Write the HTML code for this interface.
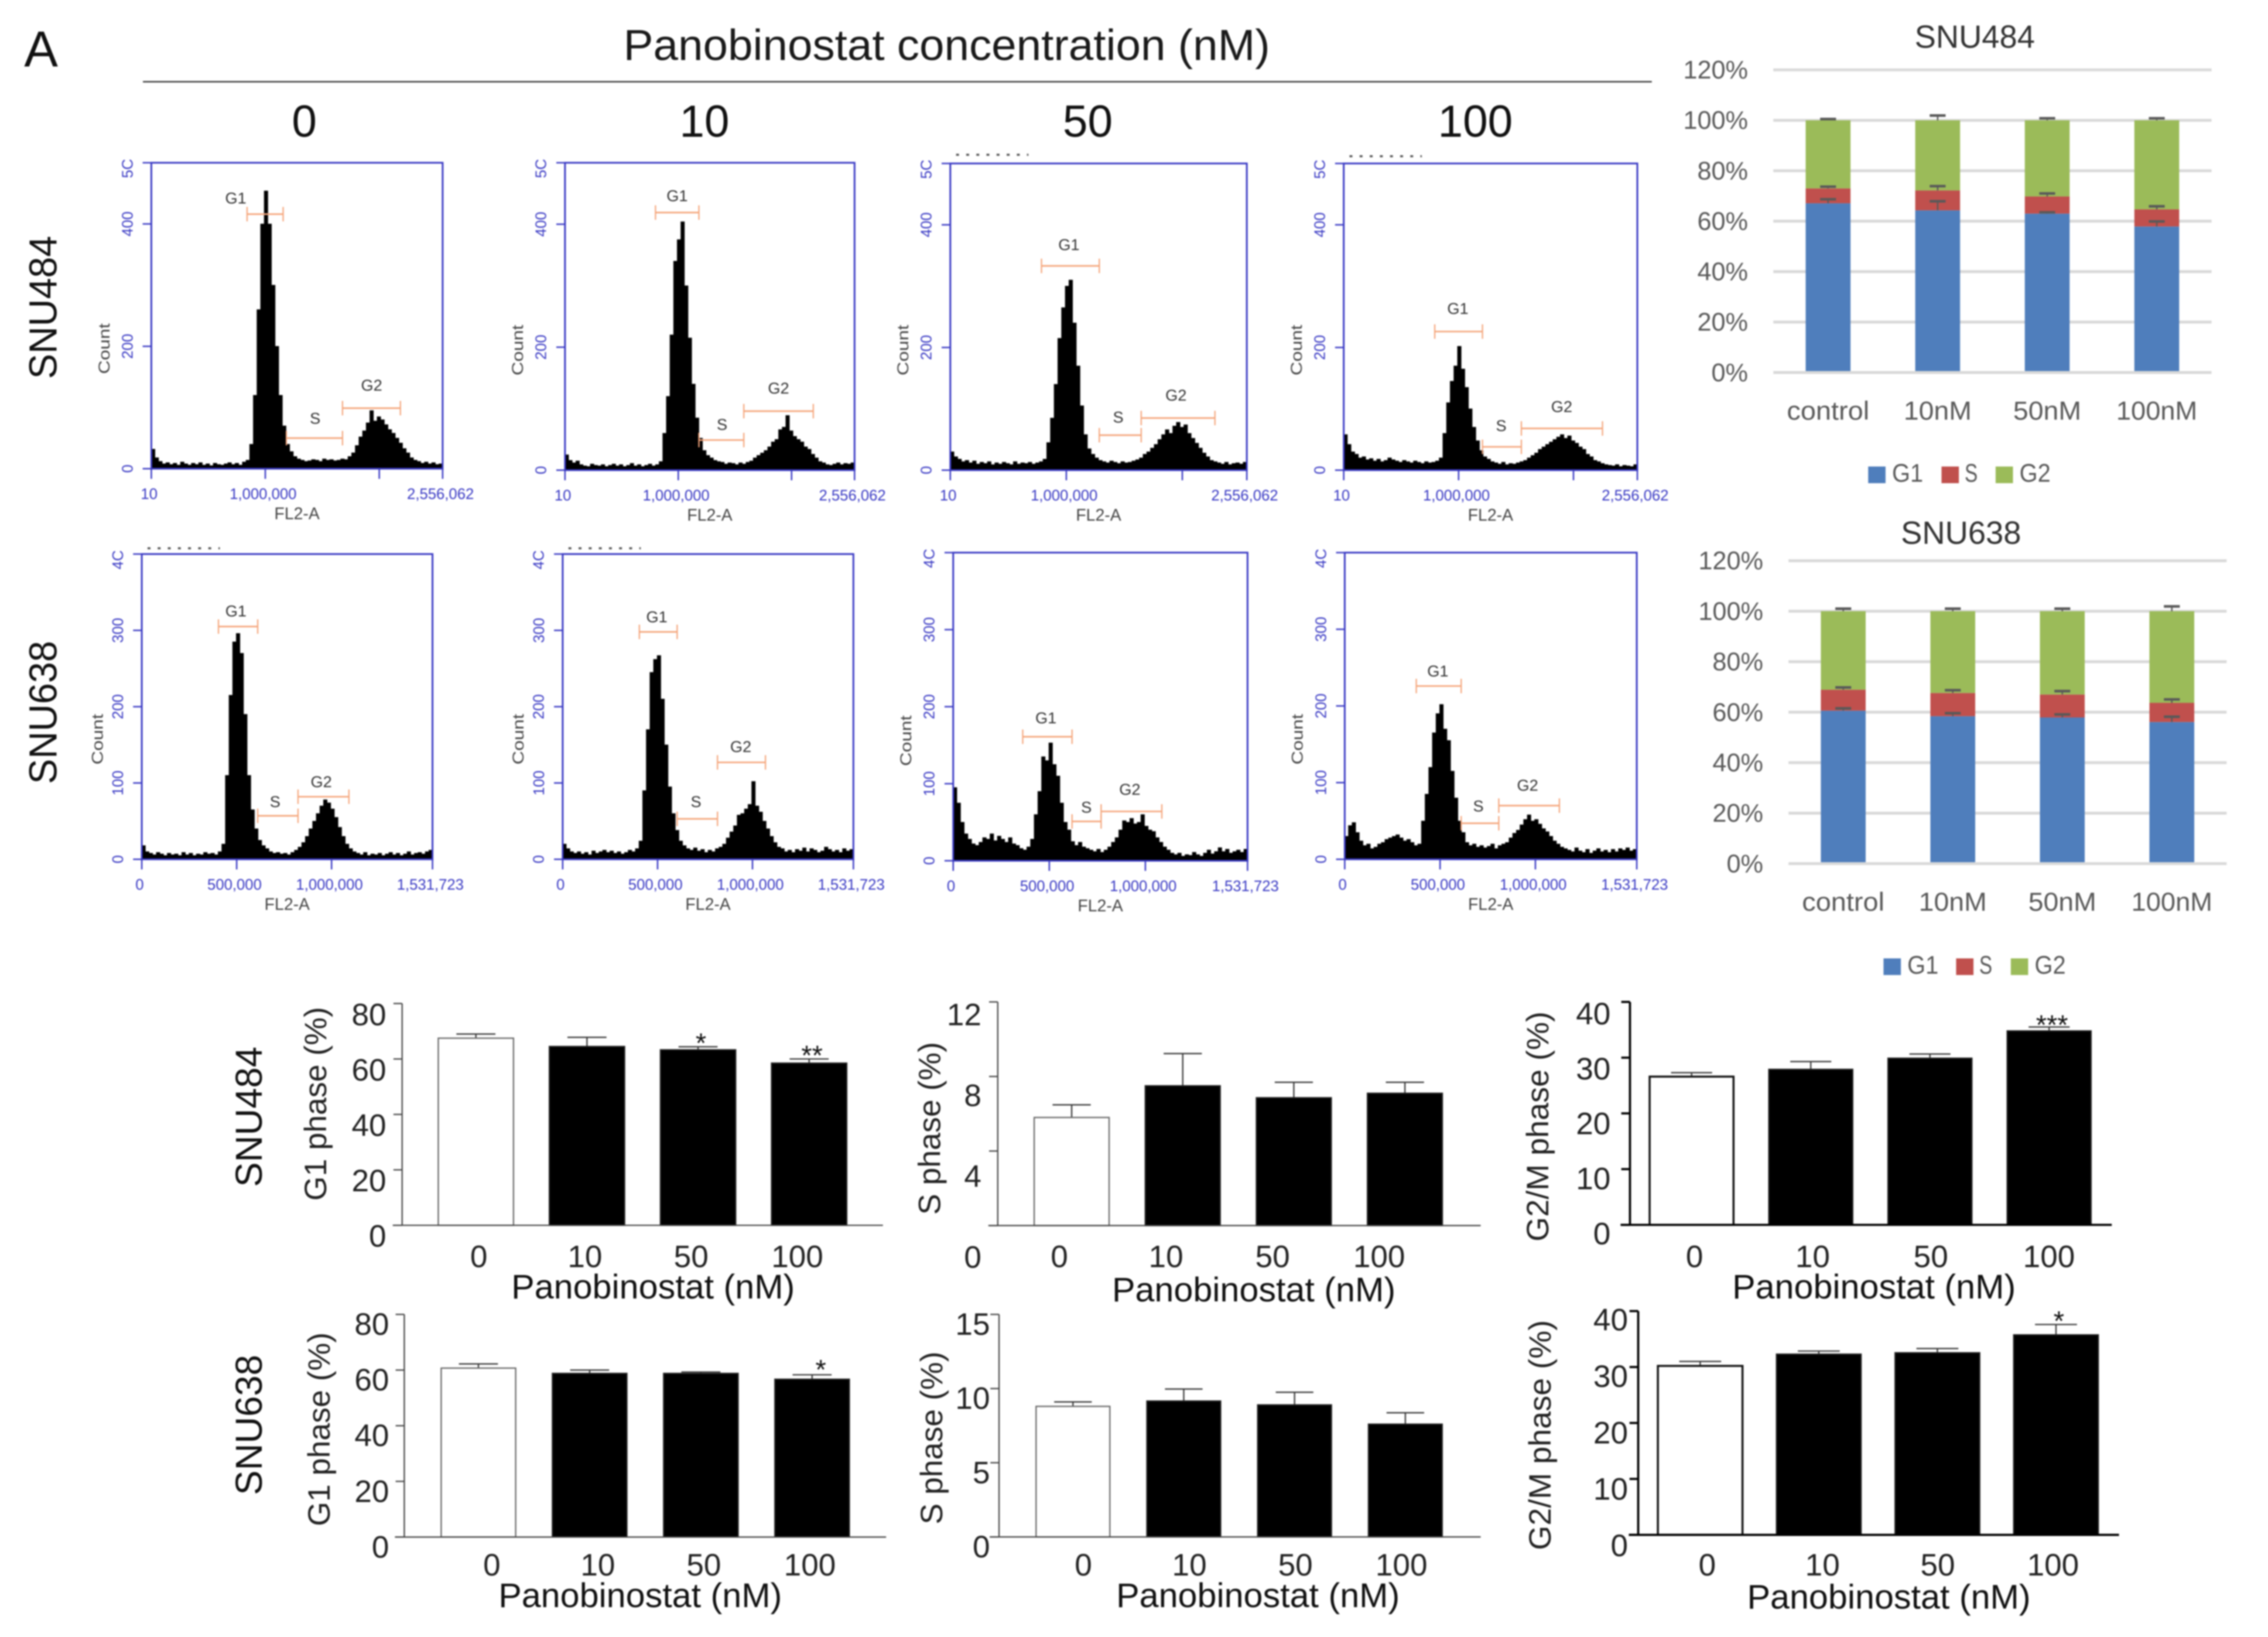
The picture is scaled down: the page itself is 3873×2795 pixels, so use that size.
<!DOCTYPE html>
<html lang="en">
<head>
<meta charset="utf-8">
<title>Panobinostat cell cycle figure</title>
<style>
html,body{margin:0;padding:0;background:#fff;width:3873px;height:2795px;overflow:hidden}
svg{display:block;width:3873px;height:2795px;filter:blur(1.3px);font-family:"Liberation Sans",Arial,sans-serif}
</style>
</head>
<body>
<svg id="fig" xmlns="http://www.w3.org/2000/svg" viewBox="0 0 1568 1131.6"></svg>
<script>
// ---------- Histogram data (counts per bin, 80 bins per panel) ----------
const snu484Dose0 = [32,18,12,8,10,7,9,6,11,8,6,9,7,10,6,8,5,9,7,6,8,10,7,9,6,11,14,40,120,260,400,454,400,300,200,120,70,40,28,20,16,14,12,13,15,14,12,16,14,15,13,14,16,15,20,26,38,52,62,75,95,78,85,80,72,64,58,50,42,33,26,18,14,12,9,11,8,10,7,8];
const snu484Dose10 = [25,16,12,15,9,7,6,10,8,7,9,6,8,10,7,9,6,8,11,7,9,6,8,10,7,9,14,60,120,220,340,375,404,300,215,140,85,52,32,24,20,16,14,13,10,12,11,9,12,10,13,15,20,24,28,32,38,46,50,66,70,89,64,55,50,46,38,34,26,20,14,12,9,8,10,12,9,11,10,12];
const snu484Dose50 = [30,22,18,14,16,12,15,10,13,11,14,9,12,10,13,11,9,14,10,12,11,13,10,12,14,18,45,85,140,215,265,300,310,240,170,105,58,35,26,20,16,14,12,15,13,11,14,12,13,15,17,20,26,30,36,42,50,58,66,60,72,78,70,74,60,52,44,36,28,22,16,14,12,10,13,9,11,12,10,13];
const snu484Dose100 = [58,42,30,26,20,22,17,19,15,18,14,16,20,17,15,13,16,14,12,15,13,11,14,12,13,15,20,60,110,145,170,202,165,135,100,70,48,32,22,18,14,12,10,13,9,11,10,12,14,16,20,24,28,34,38,42,46,50,54,58,52,56,48,44,38,34,26,22,16,14,11,9,8,7,9,6,8,7,6,9];
const snu638Dose0 = [18,10,8,6,9,7,5,8,6,7,5,9,6,8,5,7,6,9,7,8,6,10,20,110,215,285,296,270,190,110,65,40,25,18,14,10,8,9,7,8,6,9,12,16,22,30,40,50,60,70,78,74,66,55,42,30,20,14,10,8,6,9,5,7,6,8,5,7,9,6,8,5,7,10,6,8,9,7,10,12];
const snu638Dose10 = [20,14,10,8,10,7,9,6,11,8,10,12,9,11,8,10,7,9,12,10,14,24,90,170,245,262,267,210,150,95,60,38,24,18,14,12,15,11,13,9,12,10,14,16,20,28,36,44,58,60,66,72,102,70,62,50,40,30,22,16,14,10,12,9,13,11,15,10,14,12,9,11,16,13,10,12,9,14,11,13];
const snu638Dose50 = [95,75,50,35,28,22,20,24,30,28,35,26,32,28,24,30,22,20,16,14,18,28,60,90,135,130,153,125,110,75,50,40,25,20,24,18,16,14,12,15,11,14,18,24,30,40,52,50,55,48,50,60,45,40,38,30,24,18,14,10,8,10,6,8,7,11,8,6,10,14,9,12,17,12,15,10,12,14,11,15];
const snu638Dose100 = [30,44,48,35,24,18,20,14,16,20,22,26,28,30,32,28,24,26,22,18,20,50,85,120,165,190,202,170,155,115,80,50,35,22,18,20,16,18,15,17,20,14,18,20,22,28,34,38,45,52,58,50,52,46,40,36,30,24,20,16,14,12,10,15,11,9,13,8,11,14,10,12,9,13,10,14,12,15,11,13];

// Gates: [start bin, end bin, count level] for G1, S, G2
const gates484Dose0 = [[26.3,36.2,416],[37.1,52.5,50],[52.5,68.4,99]];
const gates484Dose10 = [[25,37,419],[37,49.4,49],[49.4,68.6,96]];
const gates484Dose50 = [[24.6,40.2,333],[40.2,51.5,57],[51.5,71.4,85]];
const gates484Dose100 = [[24.8,37.8,226],[37.8,48.4,38],[48.4,70.5,68]];
const gates638Dose0 = [[21.1,31.9,305],[31.9,43,57],[43,57,82]];
const gates638Dose10 = [[21.1,31.5,298],[31.5,42.6,53],[42.6,55.8,127]];
const gates638Dose50 = [[18.9,32.3,161],[32.3,40.2,51],[40.2,56.7,64]];
const gates638Dose100 = [[19.6,31.9,226],[31.9,42.2,47],[42.2,58.8,70]];
// Gate captions: [bin, count] for G1, S, G2
const captions484Dose0 = [[23.2,443],[45,83],[60.5,137]];
const captions484Dose10 = [[31,447],[43.4,75],[59,134]];
const captions484Dose50 = [[32,368],[45.3,87],[60.9,123]];
const captions484Dose100 = [[31.1,264],[42.9,73],[59.4,104]];
const captions638Dose0 = [[25.9,326],[36.7,76],[49.4,102]];
const captions638Dose10 = [[25.9,318],[36.7,76],[49,148]];
const captions638Dose50 = [[25.2,186],[36.2,70],[48,93]];
const captions638Dose100 = [[25.5,246],[36.6,70],[50.1,97]];

const gateNames = ["G1","S","G2"];
const histTicks484 = [10,1000000,2000000,2556062];
const histTickLabels484 = ["10","1,000,000","","2,556,062"];
const histYTicks484 = [0,200,400,500];
const histYLabels484 = ["0","200","400","5C"];
const histTicks638 = [0,500000,1000000,1531723];
const histTickLabels638 = ["0","500,000","1,000,000","1,531,723"];
const histYTicks638 = [0,100,200,300,400];
const histYLabels638 = ["0","100","200","300","4C"];

// ---------- Stacked percentage charts ----------
const stackCategories = ["control","10nM","50nM","100nM"];
const stackTicks = [0,20,40,60,80,100,120];
const stack484G1 = [67.1,64.3,63,57.9];
const stack484S = [5.9,7.9,6.8,6.8];
const stack484G2 = [27,27.8,30.2,35.3];
const stack484G1Err = [1.6,3.6,0.5,2];
const stack484SErr = [0.7,1.7,1.2,1.2];
const stack484G2Err = [0.5,1.9,0.8,0.8];
const stack638G1 = [60.6,58.4,57.9,56.1];
const stack638S = [8.3,9.2,9.1,7.6];
const stack638G2 = [31.1,32.4,33,36.3];
const stack638G1Err = [0.9,1.2,1.2,2.1];
const stack638SErr = [0.9,1.1,1.35,1.35];
const stack638G2Err = [1,1,1,1.9];

// ---------- Bottom bar charts ----------
const doseLabels = ["0","10","50","100"];
const g1Ticks484 = [80,60,40,20,0];
const g1Values484 = [67.5,64.5,63.3,58.5];
const g1Errors484 = [1.5,3.3,1.1,1.5];
const g1Stars484 = ["","","*","**"];
const sTicks484 = [12,8,4,0];
const sValues484 = [5.8,7.5,6.86,7.1];
const sErrors484 = [0.68,1.73,0.83,0.59];
const sStars484 = ["","","",""];
const g2Ticks484 = [40,30,20,10,0];
const g2Values484 = [26.6,27.9,29.9,34.8];
const g2Errors484 = [0.7,1.4,0.75,0.7];
const g2Stars484 = ["","","","***"];
const g1Ticks638 = [80,60,40,20,0];
const g1Values638 = [60.7,58.8,58.8,56.7];
const g1Errors638 = [1.5,1.2,0.5,1.6];
const g1Stars638 = ["","","","*"];
const sTicks638 = [15,10,5,0];
const sValues638 = [8.8,9.16,8.9,7.6];
const sErrors638 = [0.3,0.81,0.85,0.77];
const sStars638 = ["","","",""];
const g2Ticks638 = [40,30,20,10,0];
const g2Values638 = [30.2,32.3,32.55,35.75];
const g2Errors638 = [0.8,0.55,0.75,1.85];
const g2Stars638 = ["","","","*"];

// ---------- Drawing helpers ----------
const NS = "http://www.w3.org/2000/svg";
const fig = document.getElementById("fig");
function mk(tag, name, attrs, parent) {
  const el = document.createElementNS(NS, tag);
  
  
  for (const k in attrs) el.setAttribute(k, attrs[k]);
  (parent || fig).appendChild(el);
  return el;
}
function line(name, x1, y1, x2, y2, stroke, w, parent) {
  return mk("line", name, {x1, y1, x2, y2, stroke, "stroke-width": w}, parent);
}
function rect(name, x, y, width, height, fill, parent, extra) {
  return mk("rect", name, Object.assign({x, y, width, height, fill}, extra || {}), parent);
}
function txt(name, str, x, y, o, parent) {
  o = o || {};
  const a = {x, y, "font-size": o.size || 12, fill: o.fill || "#222", "text-anchor": o.anchor || "middle"};
  if (o.rot) a.transform = "rotate(" + o.rot + " " + x + " " + y + ")";
  if (o.len) { a.textLength = o.len; a.lengthAdjust = "spacingAndGlyphs"; }
  if (o.weight) a["font-weight"] = o.weight;
  const el = mk("text", name, a, parent);
  el.textContent = str;
  return el;
}

// ---------- Headings ----------
txt("panel-letter", "A", 16.7, 46, {size: 35, anchor: "start", fill: "#111"});
txt("concentration-title", "Panobinostat concentration (nM)", 654.5, 41.4, {size: 30, len: 447, fill: "#1a1a1a"});
line("concentration-rule", 98.8, 56.5, 1142, 56.5, "#333", 1);
txt("dose-header-0", "0", 210.4, 94.6, {size: 31, fill: "#111"});
txt("dose-header-10", "10", 487, 94.6, {size: 31, fill: "#111"});
txt("dose-header-50", "50", 752, 94.6, {size: 31, fill: "#111"});
txt("dose-header-100", "100", 1020, 94.6, {size: 31, fill: "#111"});
txt("row-label-snu484", "SNU484", 39, 212.5, {size: 27, rot: -90, len: 99, fill: "#111"});
txt("row-label-snu638", "SNU638", 39, 492.5, {size: 27, rot: -90, len: 99, fill: "#111"});

// ---------- Flow cytometry histograms ----------
const BLUE = "#3a3ac4", ORANGE = "#f5a67c", BINS = 80;
function histogram(id, box, counts, gates, captions, yMax, xTicks, xLabels, xMax, yTicks, yLabels, artifactY, countDx) {
  const g = mk("g", "histogram-" + id, {});
  const bw = (box.right - box.left) / BINS;
  const xb = b => box.left + b * bw;
  const yc = c => box.base - c * (box.base - box.top) / yMax;
  let d = "M" + box.left + " " + box.base;
  counts.forEach((c, i) => {
    d += "L" + xb(i).toFixed(2) + " " + yc(c).toFixed(2);
    d += "L" + xb(i + 1).toFixed(2) + " " + yc(c).toFixed(2);
  });
  d += "L" + box.right + " " + box.base + "Z";
  mk("path", "histogram-trace", {d, fill: "#000", stroke: "#000", "stroke-width": 0.3}, g);
  mk("rect", "plot-frame", {x: box.left, y: box.top, width: box.right - box.left, height: box.base - box.top, fill: "none", stroke: BLUE, "stroke-width": 1.2}, g);
  yTicks.forEach((t, i) => {
    const y = yc(t);
    line("y-tick", box.left - 6, y, box.left, y, BLUE, 1, g);
    txt("y-tick-label", yLabels[i], box.left - 13, i === yTicks.length - 1 ? y + 4 : y, {size: 10.4, rot: -90, fill: BLUE}, g);
  });
  xTicks.forEach((t, i) => {
    const x = box.left + (t === xTicks[0] ? 0 : t / xMax * (box.right - box.left));
    line("x-tick", x, box.base, x, box.base + 7, BLUE, 1, g);
    if (xLabels[i]) txt("x-tick-label", xLabels[i], x - 1.5, box.base + 21, {size: 10.4, fill: BLUE}, g);
  });
  txt("x-axis-title", "FL2-A", (box.left + box.right) / 2, box.base + 35, {size: 11.5, fill: "#444"}, g);
  txt("y-axis-title", "Count", box.left - 29 + (countDx || 0), box.base - 83, {size: 11, rot: -90, len: 35, fill: "#444"}, g);
  gates.forEach((gate, i) => {
    const y = yc(gate[2]);
    line("gate-" + gateNames[i], xb(gate[0]), y, xb(gate[1]), y, ORANGE, 1.1, g);
    line("gate-end", xb(gate[0]), y - 5, xb(gate[0]), y + 5, ORANGE, 0.9, g);
    line("gate-end", xb(gate[1]), y - 5, xb(gate[1]), y + 5, ORANGE, 0.9, g);
    txt("gate-label-" + gateNames[i], gateNames[i], xb(captions[i][0]), yc(captions[i][1]) + 4, {size: 11, fill: "#333"}, g);
  });
  if (artifactY) {
    mk("line", "header-artifact", {x1: box.left + 4, y1: artifactY, x2: box.left + 54, y2: artifactY, stroke: "#555", "stroke-width": 1.4, "stroke-dasharray": "2 5"}, g);
  }
}
histogram("snu484-0", {left:104.6,right:306,top:112.5,base:324}, snu484Dose0, gates484Dose0, captions484Dose0, 500, histTicks484, histTickLabels484, 2556062, histYTicks484, histYLabels484);
histogram("snu484-10", {left:390.6,right:590.8,top:112.5,base:325}, snu484Dose10, gates484Dose10, captions484Dose10, 500, histTicks484, histTickLabels484, 2556062, histYTicks484, histYLabels484);
histogram("snu484-50", {left:657,right:862,top:113,base:325}, snu484Dose50, gates484Dose50, captions484Dose50, 500, histTicks484, histTickLabels484, 2556062, histYTicks484, histYLabels484, 107);
histogram("snu484-100", {left:929,right:1132,top:113,base:325}, snu484Dose100, gates484Dose100, captions484Dose100, 500, histTicks484, histTickLabels484, 2556062, histYTicks484, histYLabels484, 108);
histogram("snu638-0", {left:98,right:299,top:383,base:594}, snu638Dose0, gates638Dose0, captions638Dose0, 400, histTicks638, histTickLabels638, 1531723, histYTicks638, histYLabels638, 379, 2);
histogram("snu638-10", {left:389,right:590,top:383,base:594}, snu638Dose10, gates638Dose10, captions638Dose10, 400, histTicks638, histTickLabels638, 1531723, histYTicks638, histYLabels638, 379, 2);
histogram("snu638-50", {left:659,right:862.5,top:382,base:595}, snu638Dose50, gates638Dose50, captions638Dose50, 400, histTicks638, histTickLabels638, 1531723, histYTicks638, histYLabels638);
histogram("snu638-100", {left:929.7,right:1131.6,top:382,base:594}, snu638Dose100, gates638Dose100, captions638Dose100, 400, histTicks638, histTickLabels638, 1531723, histYTicks638, histYLabels638);

// ---------- Stacked charts ----------
function stacked(id, box, g1, s, g2, e1, e2, e3, title) {
  const g = mk("g", "stacked-chart-" + id, {});
  const y = v => box.y0 - v * (box.y0 - box.yTop) / 120;
  const step = (box.right - box.left) / stackCategories.length;
  const cx = i => box.left + step * (i + 0.5);
  const BW = 31;
  txt("chart-title", title, box.titleX, box.titleY, {size: 22, fill: "#333"}, g);
  stackTicks.forEach(t => {
    line("gridline", box.left, y(t), box.right, y(t), "#d9d9d9", 2, g);
    txt("y-tick-label", t + "%", box.left - 17.5, y(t) + 6, {size: 17.5, anchor: "end", fill: "#595959"}, g);
  });
  stackCategories.forEach((c, i) => {
    const a = g1[i], b = a + s[i], t = b + g2[i];
    rect("bar-g1-" + c, cx(i) - BW/2, y(a), BW, y(0) - 1 - y(a), "#4f7ebc", g);
    rect("bar-s-" + c, cx(i) - BW/2, y(b), BW, y(a) - y(b), "#c0504d", g);
    rect("bar-g2-" + c, cx(i) - BW/2, y(t), BW, y(b) - y(t), "#9bbb59", g);
    [[a, e1[i], "g1"], [b, e2[i], "s"], [t, e3[i], "g2"]].forEach(p => {
      line("error-stem-" + p[2], cx(i), y(p[0]), cx(i), y(p[0] + p[1]), "#595959", 1, g);
      line("error-cap-" + p[2], cx(i) - 5.5, y(p[0] + p[1]), cx(i) + 5.5, y(p[0] + p[1]), "#595959", 1.8, g);
    });
    txt("x-tick-label", c, cx(i), box.labelY, {size: 18, fill: "#595959", len: c === "control" ? 57 : (c === "100nM" ? 56 : 47)}, g);
  });
  const L = box.legend;
  rect("legend-swatch-g1", L[0], box.legendY - 10.5, 12, 11.5, "#4f7ebc", g);
  txt("legend-label-g1", "G1", L[0] + 16.5, box.legendY, {size: 17.5, anchor: "start", fill: "#595959", len: 21.5}, g);
  rect("legend-swatch-s", L[1], box.legendY - 10.5, 12, 11.5, "#c0504d", g);
  txt("legend-label-s", "S", L[1] + 16, box.legendY, {size: 17.5, anchor: "start", fill: "#595959", len: 9}, g);
  rect("legend-swatch-g2", L[2], box.legendY - 10.5, 12, 11.5, "#9bbb59", g);
  txt("legend-label-g2", "G2", L[2] + 16.5, box.legendY, {size: 17.5, anchor: "start", fill: "#595959", len: 21.5}, g);
}
stacked("snu484", {left:1226,right:1529,y0:257.5,yTop:48.3,labelY:290,legendY:333,legend:[1291.6,1342.3,1379.7],titleX:1365.3,titleY:33}, stack484G1, stack484S, stack484G2, stack484G1Err, stack484SErr, stack484G2Err, "SNU484");
stacked("snu638", {left:1236.5,right:1539.4,y0:597,yTop:387.6,labelY:629.5,legendY:673,legend:[1302.2,1352.4,1390.2],titleX:1355.8,titleY:376}, stack638G1, stack638S, stack638G2, stack638G1Err, stack638SErr, stack638G2Err, "SNU638");

// ---------- Bottom bar charts ----------
function barChart(id, c, ticks, values, errors, stars, yTitle) {
  const g = mk("g", "bar-chart-" + id, {});
  const max = ticks[0];
  const y = v => c.y0 - v * (c.y0 - c.yTop) / max;
  const ax = c.thick ? "#000" : "#444", aw = c.thick ? 1.5 : 0.9;
  values.forEach((v, i) => {
    const x = c.barX + i * c.barStep, mid = x + c.barW / 2;
    line("error-stem", mid, y(v), mid, y(v + errors[i]), "#333", 0.9, g);
    line("error-cap", mid - c.cap, y(v + errors[i]), mid + c.cap, y(v + errors[i]), "#333", 0.9, g);
    rect(i === 0 ? "bar-control" : "bar-dose-" + doseLabels[i], x, y(v), c.barW, c.y0 - y(v), i === 0 ? "#fff" : "#000", g, {stroke: i === 0 ? (c.thick ? "#111" : "#666") : "#222", "stroke-width": i === 0 && c.thick ? 1.4 : 0.9});
    if (stars[i]) txt("significance-stars", stars[i], mid + c.starDx, y(v + errors[i]) + c.starDy, {size: 19, fill: "#111"}, g);
    txt("x-tick-label", doseLabels[i], c.xLabelX + i * c.xLabelStep, c.xLabelY, {size: 21.5, fill: "#222"}, g);
  });
  line("y-axis", c.axisX, c.yTop, c.axisX, c.y0, ax, aw, g);
  line("x-axis", c.axisX - 6.5, c.y0, c.axisEnd, c.y0, ax, aw, g);
  ticks.forEach((t, i) => {
    line("y-tick", c.axisX - 6, y(t), c.axisX, y(t), ax, aw, g);
    txt("y-tick-label", String(t), c.yLabelX, c.yLabelC + i * c.yLabelStep + 7.7, {size: 21.5, anchor: "end", fill: "#222"}, g);
  });
  txt("y-axis-title", yTitle, c.titleX, c.titleC, {size: 21.5, rot: -90, len: c.titleLen, fill: "#222"}, g);
  txt("x-axis-title", "Panobinostat (nM)", c.panoX, c.panoY, {size: 23.5, len: 196, fill: "#111"}, g);
}
barChart("g1-snu484", {y0:847,yTop:693.7,axisX:278,axisEnd:610.4,barX:303,barStep:76.8,barW:52,cap:13.5,xLabelX:331,xLabelStep:73.4,xLabelY:876,yLabelX:267,yLabelC:701,yLabelStep:38.25,titleX:225.5,titleC:763,titleLen:134,panoX:451.5,panoY:897.6,starDx:2,starDy:4}, g1Ticks484, g1Values484, g1Errors484, g1Stars484, "G1 phase (%)");
barChart("s-snu484", {y0:847.2,yTop:692.6,axisX:689.8,axisEnd:1023.7,barX:715,barStep:76.8,barW:51.8,cap:13.2,xLabelX:732.4,xLabelStep:73.7,xLabelY:876,yLabelX:678.5,yLabelC:701,yLabelStep:55.9,titleX:650,titleC:780,titleLen:119.5,panoX:866.8,panoY:899.7,starDx:0,starDy:0}, sTicks484, sValues484, sErrors484, sStars484, "S phase (%)");
barChart("g2-snu484", {thick:true,y0:846.7,yTop:692.6,axisX:1126.9,axisEnd:1460,barX:1140.5,barStep:82.4,barW:58,cap:14.2,xLabelX:1171.5,xLabelStep:81.7,xLabelY:876,yLabelX:1113.5,yLabelC:700.4,yLabelStep:38,titleX:1070.5,titleC:778.7,titleLen:159,panoX:1295.6,panoY:897.6,starDx:2,starDy:5}, g2Ticks484, g2Values484, g2Errors484, g2Stars484, "G2/M phase (%)");
barChart("g1-snu638", {y0:1062.5,yTop:908.6,axisX:279.5,axisEnd:612.6,barX:305,barStep:76.9,barW:51.5,cap:13.5,xLabelX:340,xLabelStep:73.3,xLabelY:1089,yLabelX:269,yLabelC:915,yLabelStep:38.5,titleX:228,titleC:988,titleLen:134,panoX:442.6,panoY:1111,starDx:6,starDy:3}, g1Ticks638, g1Values638, g1Errors638, g1Stars638, "G1 phase (%)");
barChart("s-snu638", {y0:1062.4,yTop:908.6,axisX:690.7,axisEnd:1023.7,barX:716.3,barStep:76.6,barW:51,cap:13,xLabelX:749,xLabelStep:73.3,xLabelY:1089,yLabelX:684.4,yLabelC:915,yLabelStep:51.3,titleX:651.5,titleC:994,titleLen:119.5,panoX:869.7,panoY:1111,starDx:0,starDy:0}, sTicks638, sValues638, sErrors638, sStars638, "S phase (%)");
barChart("g2-snu638", {thick:true,y0:1061,yTop:906.3,axisX:1132.6,axisEnd:1465,barX:1146.2,barStep:82,barW:58.5,cap:14.5,xLabelX:1180.3,xLabelStep:79.7,xLabelY:1089,yLabelX:1125.5,yLabelC:912,yLabelStep:39,titleX:1072,titleC:992,titleLen:159,panoX:1305.9,panoY:1112,starDx:2,starDy:4}, g2Ticks638, g2Values638, g2Errors638, g2Stars638, "G2/M phase (%)");

txt("bar-row-label-snu484", "SNU484", 181, 772, {size: 26, rot: -90, len: 97, fill: "#111"});
txt("bar-row-label-snu638", "SNU638", 181, 985, {size: 26, rot: -90, len: 97, fill: "#111"});
</script>
</body>
</html>
